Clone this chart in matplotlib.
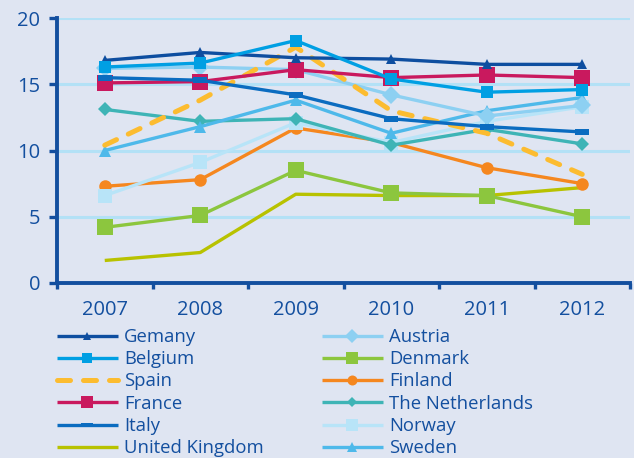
import matplotlib
matplotlib.use('Agg')
import matplotlib.pyplot as plt
from matplotlib.path import Path

# ── Data ──────────────────────────────────────────────────────────────────────
years = [2007, 2008, 2009, 2010, 2011, 2012]

germany     = [16.8, 17.4, 17.0, 16.9, 16.5, 16.5]
belgium     = [16.3, 16.6, 18.3, 15.4, 14.4, 14.6]
spain       = [10.4, 13.8, 17.8, 13.0, 11.3, 8.2]
france      = [15.1, 15.2, 16.1, 15.5, 15.7, 15.5]
italy       = [15.5, 15.3, 14.2, 12.4, 11.8, 11.4]
uk          = [1.7, 2.3, 6.7, 6.6, 6.6, 7.2]
austria     = [16.2, 16.3, 16.1, 14.2, 12.6, 13.4]
denmark     = [4.2, 5.1, 8.5, 6.8, 6.6, 5.0]
finland     = [7.3, 7.8, 11.7, 10.6, 8.7, 7.5]
netherlands = [13.1, 12.2, 12.4, 10.4, 11.6, 10.5]
norway      = [6.6, 9.1, 12.1, 10.6, 12.2, 13.3]
sweden      = [10.0, 11.8, 13.8, 11.3, 13.0, 14.0]

yticks = [0, 5, 10, 15, 20]

# ── Style ─────────────────────────────────────────────────────────────────────
BG = '#dfe5f2'
DARK = '#134f9f'
GRID = '#b3e1f6'
FONT = 'Open Sans'

# flat rectangle marker used for Italy
bar_marker = Path([(-1, -0.4), (1, -0.4), (1, 0.4), (-1, 0.4), (-1, -0.4)],
                  [Path.MOVETO, Path.LINETO, Path.LINETO, Path.LINETO, Path.CLOSEPOLY])

# name, values, colour, marker, markersize, linestyle
series = {
    'Gemany':          (germany,     '#0e4ea0', '^', 7,  '-'),
    'Belgium':         (belgium,     '#009fe3', 's', 9,  '-'),
    'Spain':           (spain,       '#fcbc30', '',  0,  (0, (2.6, 2.6))),
    'France':          (france,      '#c9195e', 's', 11, '-'),
    'Italy':           (italy,       '#0b6cc0', bar_marker, 10, '-'),
    'United Kingdom':  (uk,          '#b8c200', '',  0,  '-'),
    'Austria':         (austria,     '#8dd0f2', 'D', 9,  '-'),
    'Denmark':         (denmark,     '#8cc63e', 's', 11, '-'),
    'Finland':         (finland,     '#f5871f', 'o', 9,  '-'),
    'The Netherlands': (netherlands, '#3eb4b6', 'D', 7,  '-'),
    'Norway':          (norway,      '#b8e4f8', 's', 10, '-'),
    'Sweden':          (sweden,      '#4eb9ea', '^', 9,  '-'),
}
draw_order = ['United Kingdom', 'Denmark', 'Finland', 'Norway', 'The Netherlands',
              'Sweden', 'Austria', 'Spain', 'France', 'Italy', 'Gemany', 'Belgium']

# ── Plot ──────────────────────────────────────────────────────────────────────
fig = plt.figure(figsize=(6.34, 4.58), dpi=100, facecolor=BG)
ax = fig.add_axes([57/634, 175/458, 573/634, 265/458], facecolor=BG)

handles = {}
for name in draw_order:
    vals, col, mk, ms, ls = series[name]
    lw = 3.6 if name == 'Spain' else 2.4
    line, = ax.plot(years, vals, color=col, lw=lw, ls=ls, marker=mk if mk else None,
                    markersize=ms, markeredgewidth=0, dash_capstyle='round',
                    solid_capstyle='butt', clip_on=False, zorder=3)
    handles[name] = line

ax.set_xlim(2006.5, 2012.5)
ax.set_ylim(0, 20)
ax.set_yticks(yticks)
ax.set_xticks(years)
ax.set_xticks([y - 0.5 for y in years] + [2012.5], minor=True)
for y in yticks[1:]:
    ax.axhline(y, color=GRID, lw=2.2, zorder=1)

for s in ['top', 'right']:
    ax.spines[s].set_visible(False)
for s in ['left', 'bottom']:
    ax.spines[s].set_color(DARK)
    ax.spines[s].set_linewidth(2.8)

ax.tick_params(axis='y', length=6, width=2.4, color=DARK, pad=6,
               labelsize=14.5, labelcolor=DARK)
ax.tick_params(axis='x', which='major', length=0, pad=12,
               labelsize=14.5, labelcolor=DARK)
ax.tick_params(axis='x', which='minor', length=4, width=2.4, color=DARK)
for lab in ax.get_xticklabels() + ax.get_yticklabels():
    lab.set_fontfamily(FONT)

# ── Legend (two columns) ──────────────────────────────────────────────────────
col1 = ['Gemany', 'Belgium', 'Spain', 'France', 'Italy', 'United Kingdom']
col2 = ['Austria', 'Denmark', 'Finland', 'The Netherlands', 'Norway', 'Sweden']
for names, x0 in [(col1, 57), (col2, 322)]:
    leg = fig.legend([handles[n] for n in names], names, loc='upper left',
                     bbox_to_anchor=(x0/634, 1 - 328/458), frameon=False,
                     borderpad=0, borderaxespad=0, handlelength=3.3,
                     handletextpad=0.33, labelspacing=0.23, markerscale=0.8,
                     prop={'family': FONT, 'size': 13.3})
    for t in leg.get_texts():
        t.set_color(DARK)

fig.savefig('out.png', dpi=100, facecolor=BG)
